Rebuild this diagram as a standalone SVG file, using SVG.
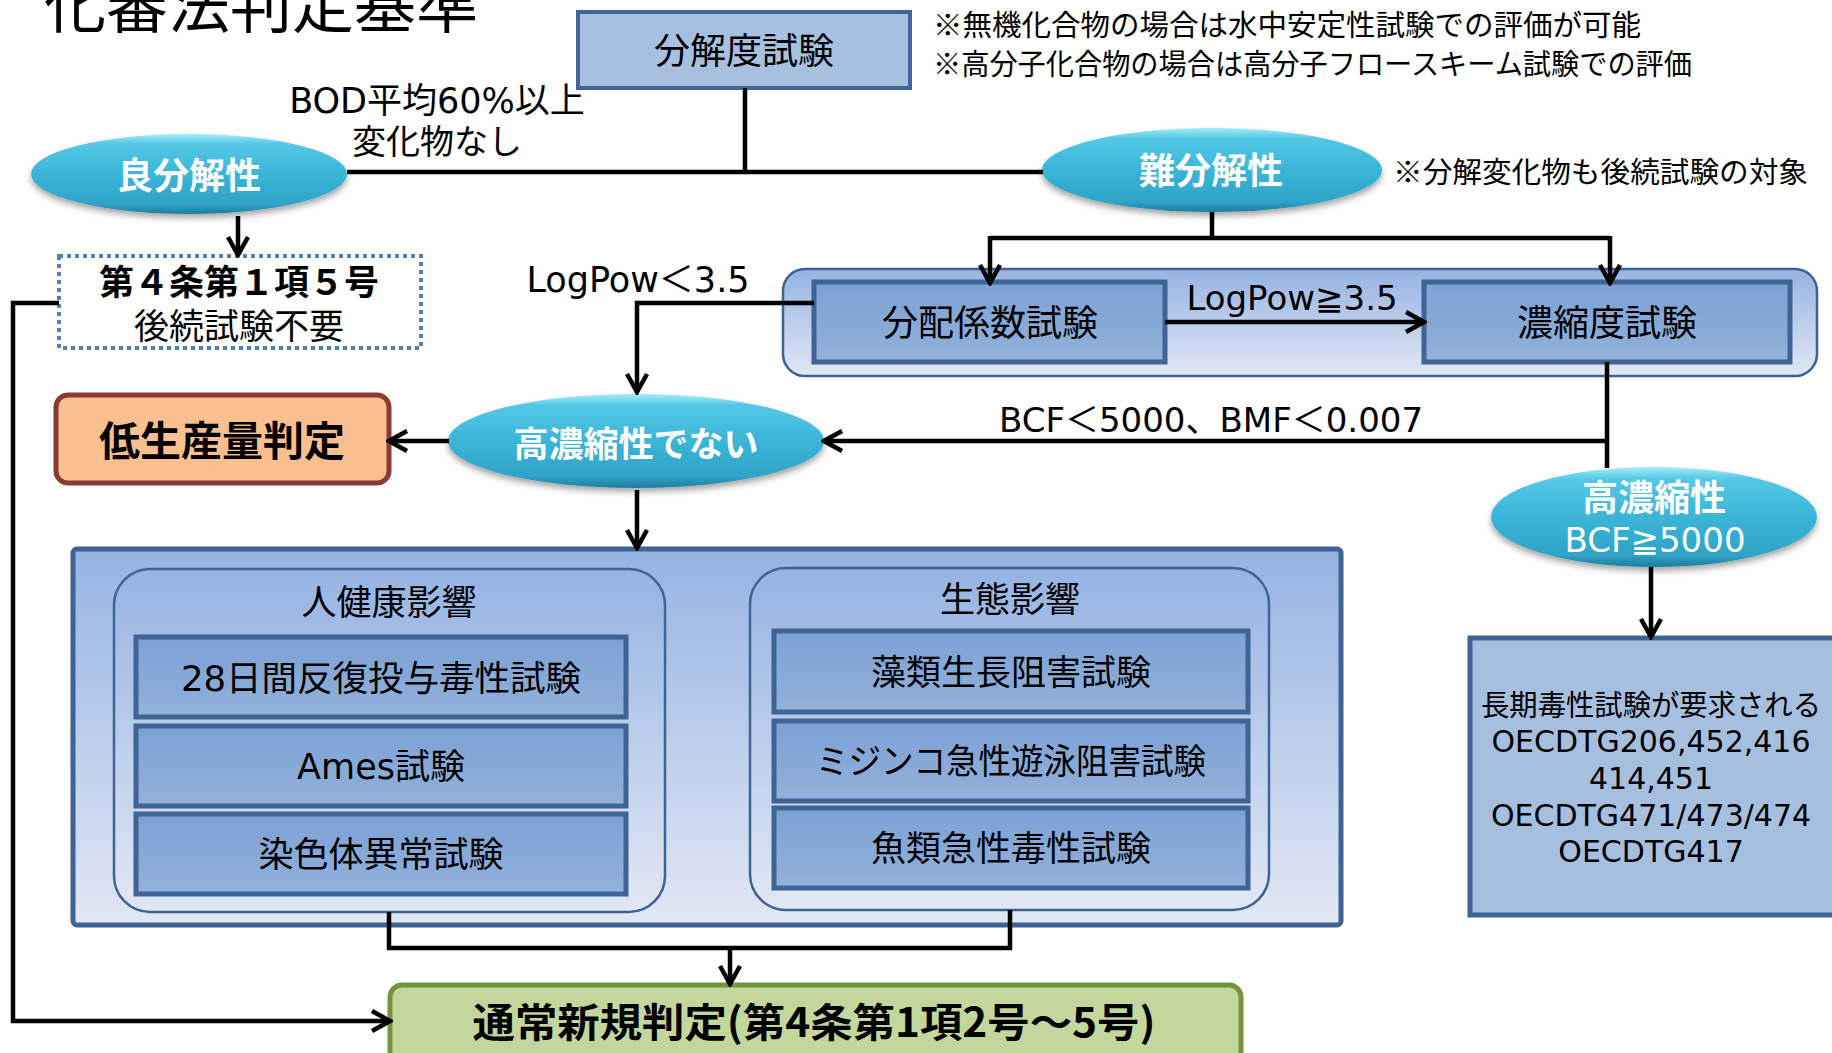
<svg xmlns="http://www.w3.org/2000/svg" width="1832" height="1053" viewBox="0 0 1832 1053">
<defs>
<style>
text{font-family:"DejaVu Sans","Noto Sans CJK JP",sans-serif;fill:#000;}
.c{text-anchor:middle;}
.j{font-family:"Noto Sans CJK JP",sans-serif;}
.w{fill:#fff;font-weight:bold;font-family:"Noto Sans CJK JP",sans-serif;}
.b{font-weight:bold;font-family:"Noto Sans CJK JP",sans-serif;}
.ell{fill:url(#gEll);filter:url(#sh);}
.box{fill:url(#gBox);stroke:#3e6394;stroke-width:5;}
.panel{fill:url(#gPanel);stroke:#3e6394;}
.ln{fill:none;stroke:#000;stroke-width:4.5;}
.ar{fill:none;stroke:#000;stroke-width:4.5;marker-end:url(#arr);}
</style>
<linearGradient id="gEll" x1="0" y1="0" x2="0" y2="1">
<stop offset="0" stop-color="#a4ecfa"/>
<stop offset="0.12" stop-color="#55c8e6"/>
<stop offset="0.5" stop-color="#3ab5d8"/>
<stop offset="0.88" stop-color="#30a3c7"/>
<stop offset="1" stop-color="#1f7c9c"/>
</linearGradient>
<linearGradient id="gBox" x1="0" y1="0" x2="0" y2="1">
<stop offset="0" stop-color="#7ba1d4"/>
<stop offset="1" stop-color="#93b1da"/>
</linearGradient>
<linearGradient id="gPanel" x1="0" y1="0" x2="0" y2="1">
<stop offset="0" stop-color="#95b3e3"/>
<stop offset="1" stop-color="#e2e8f4"/>
</linearGradient>
<filter id="sh" x="-10%" y="-20%" width="120%" height="150%">
<feDropShadow dx="0" dy="4" stdDeviation="3" flood-color="#000" flood-opacity="0.35"/>
</filter>
<marker id="arr" viewBox="0 0 24 24" markerWidth="24" markerHeight="24" refX="21" refY="12" orient="auto" markerUnits="userSpaceOnUse">
<path d="M3,2 L21,12 L3,22" fill="none" stroke="#000" stroke-width="4.5" stroke-linejoin="miter"/>
</marker>
</defs>

<text x="44" y="28" style="font-size:62px" class="j">化審法判定基準</text>

<g id="notes">
<text x="933" y="36" style="font-size:29px" class="j" textLength="708" lengthAdjust="spacingAndGlyphs">※無機化合物の場合は水中安定性試験での評価が可能</text>
<text x="933" y="75" style="font-size:29px" class="j" textLength="759" lengthAdjust="spacingAndGlyphs">※高分子化合物の場合は高分子フロースキーム試験での評価</text>
<text x="1393" y="183" style="font-size:29px" class="j" textLength="415" lengthAdjust="spacingAndGlyphs">※分解変化物も後続試験の対象</text>
</g>

<g id="n-bunkaido">
<rect x="578" y="12" width="332" height="76" fill="#a7c0df" stroke="#41669b" stroke-width="4"/>
<text class="c j" x="744" y="64" style="font-size:36px">分解度試験</text>
</g>

<g id="n-ryobunkai">
<ellipse class="ell" cx="189" cy="174" rx="158" ry="40"/>
<text class="c w" x="189" y="189" style="font-size:36px">良分解性</text>
</g>

<g id="n-nanbunkai">
<ellipse class="ell" cx="1212" cy="170" rx="170" ry="42"/>
<text class="c w" x="1211" y="184" style="font-size:36px">難分解性</text>
</g>

<g id="n-dai4jo">
<rect x="59" y="256" width="362" height="92" fill="#fff" stroke="#4f81bd" stroke-width="4" stroke-dasharray="4 4"/>
<text class="c b" x="239" y="295" style="font-size:35px">第４条第１項５号</text>
<text class="c j" x="239" y="339" style="font-size:35px">後続試験不要</text>
</g>

<g id="n-bunpai-panel">
<rect class="panel" x="783" y="269" width="1034" height="107" rx="22" stroke-width="2.5"/>
</g>
<g id="n-bunpai">
<rect class="box" x="814" y="282" width="351" height="80"/>
<text class="c j" x="990" y="336" style="font-size:36px">分配係数試験</text>
</g>
<g id="n-noshuku">
<rect class="box" x="1424" y="282" width="366" height="80"/>
<text class="c j" x="1607" y="336" style="font-size:36px">濃縮度試験</text>
</g>

<g id="n-teiseisan">
<rect x="56" y="395" width="333" height="88" rx="12" fill="#f9bf8f" stroke="#8c3a36" stroke-width="5"/>
<text class="c b" x="222" y="456" style="font-size:41px">低生産量判定</text>
</g>

<g id="n-konoshuku-nai">
<ellipse class="ell" cx="636" cy="441" rx="188" ry="47"/>
<text class="c w" x="636" y="457" style="font-size:35px">高濃縮性でない</text>
</g>

<g id="n-konoshuku">
<ellipse class="ell" cx="1654" cy="517" rx="163" ry="50"/>
<text class="c w" x="1654" y="511" style="font-size:36px">高濃縮性</text>
<text class="c" x="1655" y="552" style="font-size:34px;fill:#fff">BCF≧5000</text>
</g>

<g id="n-choki">
<rect x="1470" y="638" width="380" height="277" fill="#a7bfdf" stroke="#3e6394" stroke-width="5"/>
<text class="c j" x="1651" y="716" style="font-size:29px" textLength="340" lengthAdjust="spacingAndGlyphs">長期毒性試験が要求される</text>
<text class="c" x="1651" y="752" style="font-size:30px">OECDTG206,452,416</text>
<text class="c" x="1651" y="789" style="font-size:30px">414,451</text>
<text class="c" x="1651" y="826" style="font-size:30px">OECDTG471/473/474</text>
<text class="c" x="1651" y="862" style="font-size:30px">OECDTG417</text>
</g>

<g id="n-tests-panel">
<rect class="panel" x="73" y="549" width="1268" height="376" rx="4" stroke-width="5"/>
</g>

<g id="n-hito">
<rect class="panel" x="114" y="569" width="551" height="343" rx="36" stroke-width="2.5"/>
<text class="c j" x="389" y="615" style="font-size:35px">人健康影響</text>
<rect class="box" x="136" y="637" width="490" height="80"/>
<text class="c" x="381" y="691" style="font-size:35.5px">28日間反復投与毒性試験</text>
<rect class="box" x="136" y="726" width="490" height="80"/>
<text class="c" x="381" y="779" style="font-size:35px">Ames試験</text>
<rect class="box" x="136" y="814" width="490" height="80"/>
<text class="c j" x="381" y="867" style="font-size:35px">染色体異常試験</text>
</g>

<g id="n-seitai">
<rect class="panel" x="750" y="568" width="519" height="342" rx="36" stroke-width="2.5"/>
<text class="c j" x="1010" y="612" style="font-size:35px">生態影響</text>
<rect class="box" x="774" y="631" width="474" height="81"/>
<text class="c j" x="1011" y="685" style="font-size:35px">藻類生長阻害試験</text>
<rect class="box" x="774" y="721" width="474" height="80"/>
<text class="c j" x="1011" y="774" style="font-size:35px" textLength="390" lengthAdjust="spacingAndGlyphs">ミジンコ急性遊泳阻害試験</text>
<rect class="box" x="774" y="808" width="474" height="80"/>
<text class="c j" x="1011" y="861" style="font-size:35px">魚類急性毒性試験</text>
</g>

<g id="n-tsujo">
<rect x="390" y="985" width="851" height="90" rx="12" fill="#c3d69b" stroke="#76923c" stroke-width="5"/>
<text class="c b" x="814" y="1037" style="font-size:40px" textLength="683" lengthAdjust="spacingAndGlyphs">通常新規判定(第4条第1項2号～5号)</text>
</g>

<g id="connectors">
<path class="ln" d="M745,88 V172 M347,172 H1043"/>
<path class="ar" d="M238,216 V255"/>
<path class="ln" d="M1212,212 V238 M990,238 H1610"/>
<path class="ar" d="M990,236 V283"/>
<path class="ar" d="M1610,236 V283"/>
<path class="ar" d="M814,303 H637 V392"/>
<path class="ar" d="M1165,322 H1424"/>
<path class="ln" d="M1607,362 V468"/>
<path class="ar" d="M1609,441 H824"/>
<path class="ar" d="M449,441 H389"/>
<path class="ar" d="M637,490 V548"/>
<path class="ar" d="M1651,567 V637"/>
<path class="ar" d="M59,303 H13 V1021 H390"/>
<path class="ln" d="M389,912 V948 H1010 V910"/>
<path class="ar" d="M730,946 V984"/>
<text class="c" x="437" y="113" style="font-size:35px">BOD平均60%以上</text>
<text class="c" x="437" y="154" style="font-size:34px">変化物なし</text>
<text class="c" x="638" y="292" style="font-size:35px">LogPow＜3.5</text>
<text class="c" x="1292" y="310" style="font-size:34px">LogPow≧3.5</text>
<text class="c" x="1211" y="432" style="font-size:34px">BCF＜5000、BMF＜0.007</text>
</g>
</svg>
